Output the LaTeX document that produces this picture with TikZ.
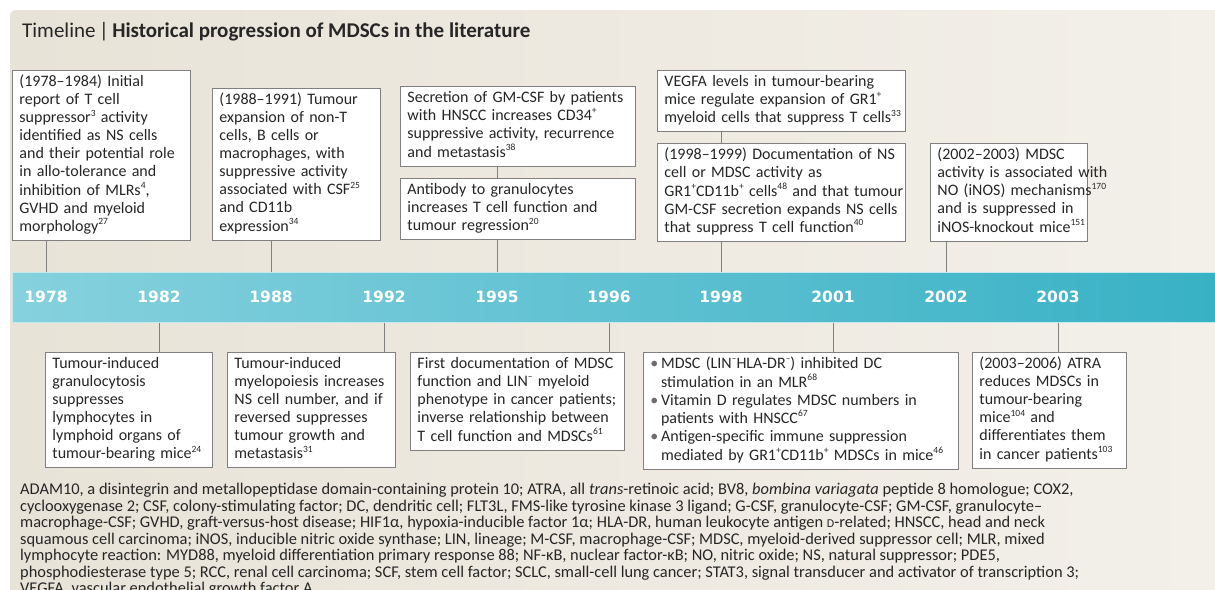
\documentclass[tikz,border=0pt]{standalone}
\usepackage{fontspec}
\setmainfont{Carlito}
\newfontfamily\yearfont{DejaVu Sans}
\definecolor{bgL}{HTML}{E8E3D7}
\definecolor{bgR}{HTML}{F3F0EA}
\definecolor{barL}{HTML}{86D1DE}
\definecolor{barR}{HTML}{38B1C5}
\definecolor{boxgray}{HTML}{808080}
\definecolor{txt}{HTML}{262626}
\definecolor{bulgray}{HTML}{6E6E6E}
\newcommand\boxtext[1]{\begin{tabular}{@{}l@{}}#1\end{tabular}}
\newcommand\sups[1]{\raisebox{0.42em}{\fontsize{9.5}{9.5}\selectfont #1}}
\newcommand\bul{{\color{bulgray}\textbullet}}
\tikzset{
  card/.style={draw=boxgray, line width=0.9pt, fill=white, anchor=north west,
    align=left, inner xsep=7pt, inner ysep=3.5pt, text=txt,
    font=\fontsize{16}{18}\selectfont},
  yearlabel/.style={text=white, font=\yearfont\bfseries\fontsize{15.5}{16}\selectfont, anchor=center, inner sep=0pt},
  conn/.style={draw=boxgray, line width=0.9pt},
}
\begin{document}
\begin{tikzpicture}[x=1pt,y=-1pt]
\clip (0,0) rectangle (1215,589);
\useasboundingbox (0,0) rectangle (1215,589);
\fill[white] (0,0) rectangle (1215,589);
% background panel
\shade[left color=bgL, right color=bgR, rounded corners=6pt] (10,10) -- (1225,10) -- (1225,600) -- (10,600) -- cycle;
% title
\node[anchor=west, text=txt, inner sep=0pt, font=\fontsize{21}{24}\selectfont] (title) at (22,32)
  {Timeline\,|\,\textbf{Historical progression of MDSCs in the literature}};
% timeline bar
\node[anchor=north west, minimum width=1210pt, minimum height=50pt, inner sep=0pt,
  left color=barL, right color=barR, draw=barL!50!white, line width=1pt] (bar) at (12,272) {};
% years
\node[yearlabel] (y1978) at (46,297) {1978};
\node[yearlabel] (y1982) at (159,297) {1982};
\node[yearlabel] (y1988) at (271,297) {1988};
\node[yearlabel] (y1992) at (384,297) {1992};
\node[yearlabel] (y1995) at (497,297) {1995};
\node[yearlabel] (y1996) at (609,297) {1996};
\node[yearlabel] (y1998) at (721,297) {1998};
\node[yearlabel] (y2001) at (833,297) {2001};
\node[yearlabel] (y2002) at (946,297) {2002};
\node[yearlabel] (y2003) at (1058,297) {2003};
% top boxes
\node[card, text width=164pt] (b1) at (12,70) {\boxtext{(1978--1984) Initial\\report of T cell\\suppressor\sups{3} activity\\identified as NS cells\\and their potential role\\in allo-tolerance and\\inhibition of MLRs\sups{4},\\GVHD and myeloid\\morphology\sups{27}}};
\node[card, text width=154pt] (b2) at (212,88) {\boxtext{(1988--1991) Tumour\\expansion of non-T\\cells, B cells or\\macrophages, with\\suppressive activity\\associated with CSF\sups{25}\\and CD11b\\expression\sups{34}}};
\node[card, text width=221pt] (b3) at (400,86) {\boxtext{Secretion of GM-CSF by patients\\with HNSCC increases CD34\sups{+}\\suppressive activity, recurrence\\and metastasis\sups{38}}};
\node[card, text width=221pt] (b4) at (400,178) {\boxtext{Antibody to granulocytes\\increases T cell function and\\tumour regression\sups{20}}};
\node[card, text width=234pt] (b5) at (657,70) {\boxtext{VEGFA levels in tumour-bearing\\mice regulate expansion of GR1\sups{+}\\myeloid cells that suppress T cells\sups{33}}};
\node[card, text width=234pt] (b6) at (657,143) {\boxtext{(1998--1999) Documentation of NS\\cell or MDSC activity as\\GR1\sups{+}CD11b\sups{+} cells\sups{48} and that tumour\\GM-CSF secretion expands NS cells\\that suppress T cell function\sups{40}}};
\node[card, text width=143pt] (b7) at (930,143) {\boxtext{(2002--2003) MDSC\\activity is associated with\\NO (iNOS) mechanisms\sups{170}\\and is suppressed in\\iNOS-knockout mice\sups{151}}};
% bottom boxes
\node[card, text width=153pt] (b8) at (45,352) {\boxtext{Tumour-induced\\granulocytosis\\suppresses\\lymphocytes in\\lymphoid organs of\\tumour-bearing mice\sups{24}}};
\node[card, text width=154pt] (b9) at (227,352) {\boxtext{Tumour-induced\\myelopoiesis increases\\NS cell number, and if\\reversed suppresses\\tumour growth and\\metastasis\sups{31}}};
\node[card, text width=200pt] (b10) at (410,352) {\boxtext{First documentation of MDSC\\function and LIN\sups{--} myeloid\\phenotype in cancer patients;\\inverse relationship between\\T cell function and MDSCs\sups{61}}};
\node[card, text width=301pt] (b11) at (643,352) {\begin{tabular}{@{}l@{\,}l@{}}\bul & MDSC (LIN\sups{--}HLA-DR\sups{--}) inhibited DC\\ & stimulation in an MLR\sups{68}\\\bul & Vitamin D regulates MDSC numbers in\\ & patients with HNSCC\sups{67}\\\bul & Antigen-specific immune suppression\\ & mediated by GR1\sups{+}CD11b\sups{+} MDSCs in mice\sups{46}\end{tabular}};
\node[card, text width=140pt] (b12) at (972,352) {\boxtext{(2003--2006) ATRA\\reduces MDSCs in\\tumour-bearing\\mice\sups{104} and\\differentiates them\\in cancer patients\sups{103}}};
% connectors
\draw[conn] (b1.south -| y1978) -- (bar.north -| y1978);
\draw[conn] (b2.south -| y1988) -- (bar.north -| y1988);
\draw[conn] (b3.south -| y1995) -- (b4.north -| y1995);
\draw[conn] (b4.south -| y1995) -- (bar.north -| y1995);
\draw[conn] (b5.south -| y1998) -- (b6.north -| y1998);
\draw[conn] (b6.south -| y1998) -- (bar.north -| y1998);
\draw[conn] (b7.south -| y2002) -- (bar.north -| y2002);
\draw[conn] (bar.south -| y1982) -- (b8.north -| y1982);
\draw[conn] (bar.south -| y1992) -- (b9.north -| y1992);
\draw[conn] (bar.south -| y1996) -- (b10.north -| y1996);
\draw[conn] (bar.south -| y2001) -- (b11.north -| y2001);
\draw[conn] (bar.south -| y2003) -- (b12.north -| y2003);
% footnote
\node[anchor=north west, align=left, inner sep=0pt, text=txt, font=\fontsize{16.4}{16.5}\selectfont] (notes) at (20,483)
{ADAM10, a disintegrin and metallopeptidase domain-containing protein 10; ATRA, all \textit{trans}-retinoic acid; BV8, \textit{bombina variagata} peptide 8 homologue; COX2,\\
cyclooxygenase 2; CSF, colony-stimulating factor; DC, dendritic cell; FLT3L, FMS-like tyrosine kinase 3 ligand; G-CSF, granulocyte-CSF; GM-CSF, granulocyte--\\
macrophage-CSF; GVHD, graft-versus-host disease; HIF1α, hypoxia-inducible factor 1α; HLA-DR, human leukocyte antigen {\fontsize{12}{12}\selectfont D}-related; HNSCC, head and neck\\
squamous cell carcinoma; iNOS, inducible nitric oxide synthase; LIN, lineage; M-CSF, macrophage-CSF; MDSC, myeloid-derived suppressor cell; MLR, mixed\\
lymphocyte reaction: MYD88, myeloid differentiation primary response 88; NF-κB, nuclear factor-κB; NO, nitric oxide; NS, natural suppressor; PDE5,\\
phosphodiesterase type 5; RCC, renal cell carcinoma; SCF, stem cell factor; SCLC, small-cell lung cancer; STAT3, signal transducer and activator of transcription 3;\\
VEGFA, vascular endothelial growth factor A.};
\end{tikzpicture}
\end{document}
